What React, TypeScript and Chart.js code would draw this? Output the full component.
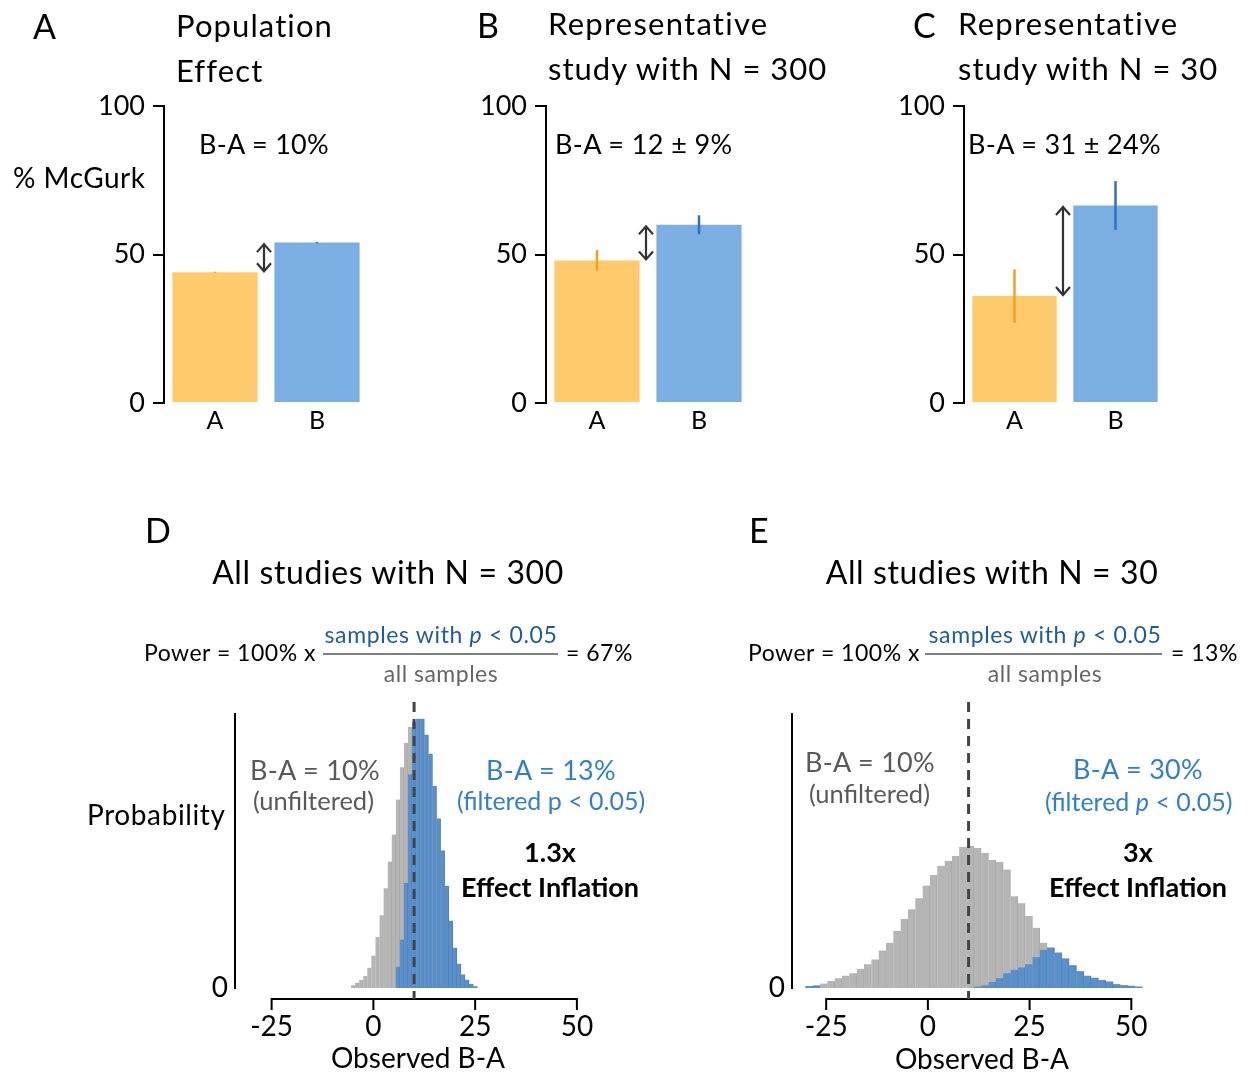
import React, { useEffect, useRef } from 'react';
import { Chart, registerables } from 'chart.js';

Chart.register(...registerables);

const FONT = 'Lato, "Open Sans", "DejaVu Sans", sans-serif';
Chart.defaults.font.family = FONT;

// ---------- data ----------
const barCategories = ['A', 'B'];
const yTicksBar = [0, 50, 100];

const populationMeans = [44, 54];
const populationErr = [0.2, 0.2];
const study300Means = [48, 60];
const study300Err = [3.5, 3.2];
const study30Means = [36, 66.5];
const study30Err = [9, 8.2];

const xTicksHist = [-25, 0, 25, 50];
const trueEffect = 10;

// N = 300 histogram (bin width 1)
const n300Bins = [-5, -4, -3, -2, -1, 0, 1, 2, 3, 4, 5, 6, 7, 8, 9, 10, 11, 12, 13, 14, 15, 16, 17, 18, 19, 20, 21, 22, 23, 24, 25];
const n300All = [0.08, 0.15, 0.23, 0.34, 0.57, 0.91, 1.44, 2.04, 2.8, 3.55, 4.31, 5.29, 6.2, 6.88, 7.33, 7.48, 7.56, 7.56, 7.11, 6.58, 5.67, 4.76, 3.86, 2.87, 1.89, 1.13, 0.68, 0.38, 0.23, 0.11, 0.05];
const n300Sig = [0, 0, 0, 0, 0, 0, 0, 0, 0, 0, 0, 0.6, 1.36, 2.95, 6.0, 7.48, 7.56, 7.56, 7.11, 6.58, 5.67, 4.76, 3.86, 2.87, 1.89, 1.13, 0.68, 0.38, 0.23, 0.11, 0.05];

// N = 30 histogram (bin width 1.8)
const n30Bins = [-29.2, -27.4, -25.6, -23.8, -22.0, -20.2, -18.4, -16.6, -14.8, -13.0, -11.2, -9.4, -7.6, -5.8, -4.0, -2.2, -0.4, 1.4, 3.2, 5.0, 6.8, 8.6, 10.4, 12.2, 14.0, 15.8, 17.6, 19.4, 21.2, 23.0, 24.8, 26.6, 28.4, 30.2, 32.0, 33.8, 35.6, 37.4, 39.2, 41.0, 42.8, 44.6, 46.4, 48.2, 50.0, 51.8];
const n30All = [0.08, 0.1, 0.17, 0.27, 0.38, 0.48, 0.57, 0.75, 0.92, 1.11, 1.46, 1.76, 2.22, 2.68, 3.06, 3.49, 3.98, 4.4, 4.75, 4.94, 5.13, 5.48, 5.52, 5.44, 5.25, 4.98, 4.9, 4.6, 3.56, 3.29, 2.8, 2.34, 1.76, 1.57, 1.38, 1.15, 0.88, 0.65, 0.48, 0.4, 0.31, 0.25, 0.15, 0.11, 0.09, 0.06];
const n30Sig = [0.08, 0.1, 0, 0, 0, 0, 0, 0, 0, 0, 0, 0, 0, 0, 0, 0, 0, 0, 0, 0, 0, 0, 0, 0.06, 0.11, 0.23, 0.38, 0.57, 0.71, 0.8, 0.92, 1.19, 1.49, 1.57, 1.38, 1.15, 0.88, 0.65, 0.48, 0.4, 0.31, 0.25, 0.15, 0.11, 0.09, 0.06];

// ---------- styles ----------
const ORANGE = '#FFCA6B';
const BLUE = '#7BAEE2';
const ERR_COLORS = ['#F5A21A', '#2A72C8'];
const HIST_GREY = '#B5B5B5';
const HIST_GREY_EDGE = '#A9A9A9';
const HIST_BLUE = '#5A8FC9';
const HIST_BLUE_EDGE = '#5083BC';

type Box = { x: number; y: number; w: number; h: number };
type Area = { l: number; t: number; r: number; b: number };

function errorBarPlugin(errs: number[]) {
  return {
    id: 'errbars',
    afterDatasetsDraw(chart: any) {
      const ctx = chart.ctx;
      const meta = chart.getDatasetMeta(0);
      const y = chart.scales.y;
      const vals = chart.data.datasets[0].data as number[];
      ctx.save();
      meta.data.forEach((bar: any, i: number) => {
        ctx.strokeStyle = ERR_COLORS[i];
        ctx.lineWidth = 2.5;
        ctx.beginPath();
        ctx.moveTo(bar.x, y.getPixelForValue(vals[i] + errs[i]));
        ctx.lineTo(bar.x, y.getPixelForValue(vals[i] - errs[i]));
        ctx.stroke();
      });
      const a: any = meta.data[0];
      const b: any = meta.data[1];
      const ax = (a.x + a.width / 2 + b.x - b.width / 2) / 2 - 2;
      const yTop = y.getPixelForValue(Math.max(vals[0], vals[1])) + 1.5;
      const yBot = y.getPixelForValue(Math.min(vals[0], vals[1])) - 1;
      ctx.strokeStyle = '#333';
      ctx.lineWidth = 2.2;
      ctx.beginPath();
      ctx.moveTo(ax, yTop);
      ctx.lineTo(ax, yBot);
      ctx.moveTo(ax - 7, yTop + 8);
      ctx.lineTo(ax, yTop);
      ctx.lineTo(ax + 7, yTop + 8);
      ctx.moveTo(ax - 7, yBot - 8);
      ctx.lineTo(ax, yBot);
      ctx.lineTo(ax + 7, yBot - 8);
      ctx.stroke();
      ctx.restore();
    },
  };
}

function barConfig(means: number[], errs: number[], box: Box, area: Area) {
  return {
    type: 'bar',
    data: {
      labels: barCategories,
      datasets: [
        {
          data: means,
          backgroundColor: [ORANGE, BLUE],
          borderWidth: 0,
          barPercentage: 0.835,
          categoryPercentage: 1,
        },
      ],
    },
    options: {
      responsive: false,
      animation: false,
      events: [],
      layout: { padding: { left: 0, top: area.t - box.y, right: box.x + box.w - area.r, bottom: 0 } },
      plugins: { legend: { display: false }, tooltip: { enabled: false } },
      scales: {
        x: {
          grid: { display: false, drawTicks: false },
          border: { display: false },
          ticks: { color: '#000', font: { family: FONT, size: 25 }, padding: 3 },
          afterFit: (s: any) => {
            s.height = box.y + box.h - area.b;
          },
        },
        y: {
          min: 0,
          max: 100,
          afterBuildTicks: (s: any) => {
            s.ticks = yTicksBar.map((v) => ({ value: v }));
          },
          grid: { drawOnChartArea: false, drawTicks: true, tickLength: 11, color: '#000', lineWidth: 2 },
          border: { display: true, color: '#000', width: 2 },
          ticks: { color: '#000', font: { family: FONT, size: 27 }, padding: 8 },
          afterFit: (s: any) => {
            s.width = area.l - box.x;
          },
        },
      },
    },
    plugins: [errorBarPlugin(errs)],
  };
}

function histDecor(box: Box) {
  return {
    id: 'histDecor',
    afterDraw(chart: any) {
      const { ctx, chartArea } = chart;
      const x = chart.scales.x;
      const yAxis = chartArea.bottom + 11;
      ctx.save();
      ctx.strokeStyle = '#000';
      ctx.lineWidth = 2;
      ctx.beginPath();
      ctx.moveTo(x.getPixelForValue(xTicksHist[0]) - 1, yAxis);
      ctx.lineTo(x.getPixelForValue(xTicksHist[xTicksHist.length - 1]) + 1, yAxis);
      xTicksHist.forEach((v) => {
        const px = x.getPixelForValue(v);
        ctx.moveTo(px, yAxis);
        ctx.lineTo(px, yAxis + 11);
      });
      ctx.stroke();
      const dx = x.getPixelForValue(trueEffect);
      ctx.strokeStyle = '#444';
      ctx.lineWidth = 3;
      ctx.setLineDash([10, 7]);
      ctx.beginPath();
      ctx.moveTo(dx, 702 - box.y);
      ctx.lineTo(dx, yAxis);
      ctx.stroke();
      ctx.restore();
    },
  };
}

function histConfig(
  bins: number[],
  all: number[],
  sig: number[],
  xmin: number,
  xmax: number,
  ymax: number,
  box: Box,
  area: Area
) {
  return {
    type: 'bar',
    data: {
      datasets: [
        {
          data: bins.map((x, i) => ({ x, y: sig[i] > 0 ? sig[i] : null })),
          backgroundColor: HIST_BLUE,
          borderColor: HIST_BLUE_EDGE,
          borderWidth: { left: 0, right: 1, top: 0, bottom: 0 },
          borderSkipped: false,
          grouped: false,
          barPercentage: 1,
          categoryPercentage: 1,
          order: 0,
        },
        {
          data: bins.map((x, i) => ({ x, y: all[i] })),
          backgroundColor: HIST_GREY,
          borderColor: HIST_GREY_EDGE,
          borderWidth: { left: 0, right: 1, top: 0, bottom: 0 },
          borderSkipped: false,
          grouped: false,
          barPercentage: 1,
          categoryPercentage: 1,
          order: 1,
        },
      ],
    },
    options: {
      responsive: false,
      animation: false,
      events: [],
      layout: { padding: { left: 0, top: area.t - box.y, right: box.x + box.w - area.r, bottom: 0 } },
      plugins: { legend: { display: false }, tooltip: { enabled: false } },
      scales: {
        x: {
          type: 'linear',
          offset: false,
          min: xmin,
          max: xmax,
          afterBuildTicks: (s: any) => {
            s.ticks = xTicksHist.map((v) => ({ value: v }));
          },
          grid: { display: false, drawTicks: false },
          border: { display: false },
          ticks: { color: '#000', font: { family: FONT, size: 28 }, padding: 22, callback: (v: any) => String(v) },
          afterFit: (s: any) => {
            s.height = box.y + box.h - area.b;
          },
        },
        y: {
          min: 0,
          max: ymax,
          afterBuildTicks: (s: any) => {
            s.ticks = [{ value: 0 }];
          },
          grid: { display: false, drawTicks: false },
          border: { display: true, color: '#000', width: 2 },
          ticks: { color: '#000', font: { family: FONT, size: 28 }, padding: 7, callback: (v: any) => String(v) },
          afterFit: (s: any) => {
            s.width = area.l - box.x;
          },
        },
      },
    },
    plugins: [histDecor(box)],
  };
}

function ChartCanvas({ box, make }: { box: Box; make: () => any }) {
  const ref = useRef<HTMLCanvasElement>(null);
  useEffect(() => {
    const chart = new Chart(ref.current as HTMLCanvasElement, make());
    return () => chart.destroy();
  }, []);
  return (
    <canvas
      ref={ref}
      width={box.w}
      height={box.h}
      style={{ position: 'absolute', left: box.x, top: box.y, width: box.w, height: box.h }}
    />
  );
}

type T = {
  x: number;
  y: number;
  s: number;
  c?: string;
  a?: 'start' | 'middle' | 'end';
  w?: number;
  ls?: number;
  content: React.ReactNode;
};

const P = <tspan fontStyle="italic">p</tspan>;

const texts: T[] = [
  { x: 33, y: 39, s: 34, content: 'A' },
  { x: 176, y: 37, s: 31, ls: 1.1, content: 'Population' },
  { x: 176, y: 82, s: 31, ls: 1.1, content: 'Effect' },
  { x: 477, y: 38, s: 34, content: 'B' },
  { x: 548, y: 35, s: 31, ls: 1.25, content: 'Representative' },
  { x: 548, y: 80, s: 31, ls: 1.0, content: 'study with N = 300' },
  { x: 913, y: 38, s: 34, content: 'C' },
  { x: 958, y: 35, s: 31, ls: 1.25, content: 'Representative' },
  { x: 958, y: 80, s: 31, ls: 1.0, content: 'study with N = 30' },
  { x: 13, y: 188, s: 28, ls: 0.5, content: '% McGurk' },
  { x: 199, y: 154, s: 27, ls: 0.3, content: 'B-A = 10%' },
  { x: 555, y: 154, s: 27, ls: 0.4, content: 'B-A = 12 ± 9%' },
  { x: 968, y: 154, s: 27, ls: 0.35, content: 'B-A = 31 ± 24%' },

  { x: 145, y: 543, s: 34, content: 'D' },
  { x: 388, y: 584, s: 32, a: 'middle', ls: 0.6, content: 'All studies with N = 300' },
  { x: 749, y: 543, s: 34, content: 'E' },
  { x: 992, y: 584, s: 32, a: 'middle', ls: 0.6, content: 'All studies with N = 30' },

  { x: 144, y: 661, s: 23, ls: 0.5, content: 'Power = 100% x' },
  { x: 441, y: 643, s: 23, a: 'middle', ls: 0.65, c: '#1F5B9C', content: <>samples with {P} &lt; 0.05</> },
  { x: 441, y: 682, s: 23, a: 'middle', ls: 0.5, c: '#666', content: 'all samples' },
  { x: 566, y: 661, s: 23, ls: 0.5, content: '= 67%' },
  { x: 748, y: 661, s: 23, ls: 0.5, content: 'Power = 100% x' },
  { x: 1045, y: 643, s: 23, a: 'middle', ls: 0.65, c: '#1F5B9C', content: <>samples with {P} &lt; 0.05</> },
  { x: 1045, y: 682, s: 23, a: 'middle', ls: 0.5, c: '#666', content: 'all samples' },
  { x: 1171, y: 661, s: 23, ls: 0.5, content: '= 13%' },

  { x: 87, y: 825, s: 28, ls: 0.6, content: 'Probability' },
  { x: 250, y: 780, s: 27, ls: 0.3, c: '#595959', content: 'B-A = 10%' },
  { x: 253, y: 810, s: 25.5, c: '#595959', content: '(unfiltered)' },
  { x: 486, y: 780, s: 27, ls: 0.3, c: '#2F7ED3', content: 'B-A = 13%' },
  { x: 457, y: 810, s: 25, c: '#2F7ED3', content: '(filtered p < 0.05)' },
  { x: 550, y: 862, s: 27, a: 'middle', w: 700, content: '1.3x' },
  { x: 550, y: 897, s: 27, a: 'middle', w: 700, content: 'Effect Inflation' },

  { x: 805, y: 772, s: 27, ls: 0.3, c: '#595959', content: 'B-A = 10%' },
  { x: 809, y: 803, s: 25.5, c: '#595959', content: '(unfiltered)' },
  { x: 1073, y: 779, s: 27, ls: 0.3, c: '#2F7ED3', content: 'B-A = 30%' },
  { x: 1045, y: 811, s: 25, c: '#2F7ED3', content: <>(filtered {P} &lt; 0.05)</> },
  { x: 1138, y: 862, s: 27, a: 'middle', w: 700, content: '3x' },
  { x: 1138, y: 897, s: 27, a: 'middle', w: 700, content: 'Effect Inflation' },

  { x: 418, y: 1068, s: 28, a: 'middle', content: 'Observed B-A' },
  { x: 982, y: 1069, s: 28, a: 'middle', content: 'Observed B-A' },
];

const boxA: Box = { x: 0, y: 76, w: 380, h: 384 };
const areaA: Area = { l: 164, t: 106, r: 368, b: 403 };
const boxB: Box = { x: 382, y: 76, w: 380, h: 384 };
const areaB: Area = { l: 546, t: 106, r: 750, b: 403 };
const boxC: Box = { x: 800, y: 76, w: 400, h: 384 };
const areaC: Area = { l: 964, t: 106, r: 1166, b: 403 };
const boxD: Box = { x: 60, y: 690, w: 600, h: 384 };
const areaD: Area = { l: 235, t: 712, r: 617.6, b: 988 };
const boxE: Box = { x: 700, y: 690, w: 553, h: 384 };
const areaE: Area = { l: 792, t: 712, r: 1172, b: 988 };

export default function App() {
  return (
    <div
      style={{
        position: 'absolute',
        left: 0,
        top: 0,
        width: 1253,
        height: 1074,
        background: '#fff',
        overflow: 'hidden',
      }}
    >
      <ChartCanvas box={boxA} make={() => barConfig(populationMeans, populationErr, boxA, areaA)} />
      <ChartCanvas box={boxB} make={() => barConfig(study300Means, study300Err, boxB, areaB)} />
      <ChartCanvas box={boxC} make={() => barConfig(study30Means, study30Err, boxC, areaC)} />
      <ChartCanvas
        box={boxD}
        make={() => histConfig(n300Bins, n300All, n300Sig, -34, 60, 7.7, boxD, areaD)}
      />
      <ChartCanvas
        box={boxE}
        make={() => histConfig(n30Bins, n30All, n30Sig, -33.4, 60, 10.65, boxE, areaE)}
      />
      <svg
        width={1253}
        height={1074}
        style={{ position: 'absolute', left: 0, top: 0, pointerEvents: 'none' }}
        fontFamily={FONT}
      >
        <line x1={323} x2={558} y1={654} y2={654} stroke="#555" strokeWidth={1.3} />
        <line x1={925} x2={1162} y1={654} y2={654} stroke="#555" strokeWidth={1.3} />
        {texts.map((t, i) => (
          <text
            key={i}
            x={t.x}
            y={t.y}
            fontSize={t.s}
            fill={t.c || '#000'}
            textAnchor={t.a || 'start'}
            fontWeight={t.w || 400}
            letterSpacing={t.ls || 0}
          >
            {t.content}
          </text>
        ))}
      </svg>
    </div>
  );
}
